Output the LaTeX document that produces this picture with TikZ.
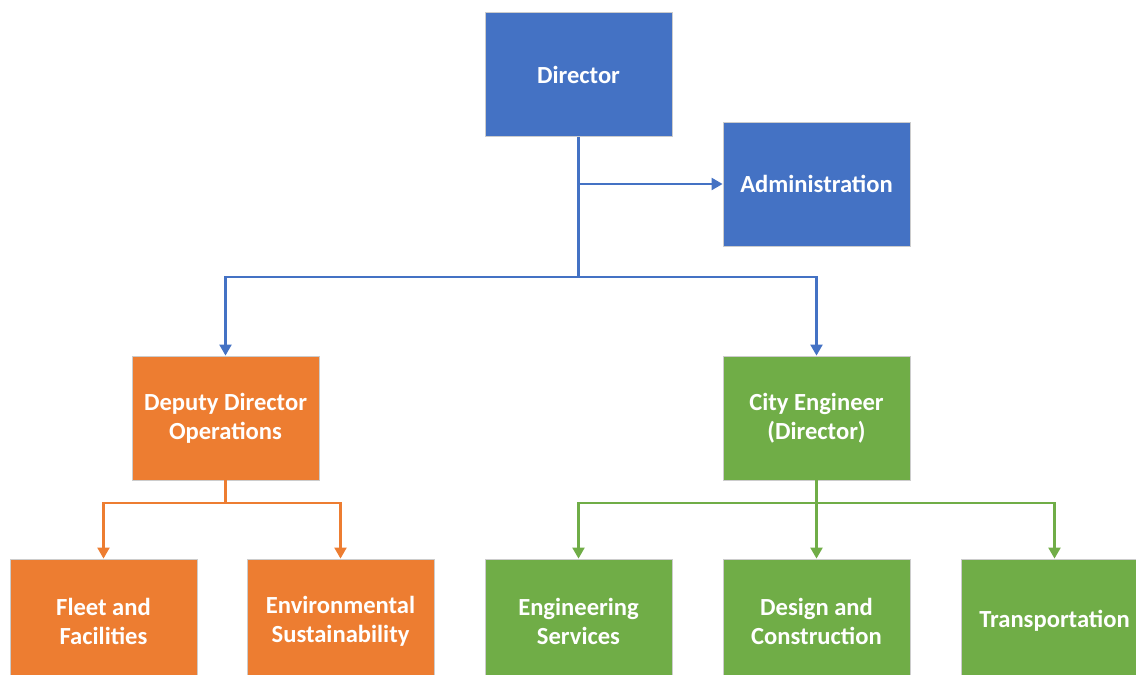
\documentclass[tikz,border=0pt]{standalone}
\usepackage{fontspec}
\setmainfont{Carlito}
\usepackage{xcolor}
\usetikzlibrary{arrows.meta}
\definecolor{OrgBlue}{HTML}{4472C4}
\definecolor{OrgOrange}{HTML}{ED7D31}
\definecolor{OrgGreen}{HTML}{70AD47}
\definecolor{OrgEdge}{HTML}{CCCCCC}

\begin{document}
\begin{tikzpicture}[x=0.02cm,y=-0.02cm,
  unit/.style={draw=OrgEdge,line width=.5pt,minimum width=3.74cm,minimum height=2.48cm,
    inner sep=0pt,align=center,text=white,font=\fontsize{14}{16.5}\selectfont\bfseries},
  wire/.style={line width=1.2pt},
  link/.style={wire,-{Triangle[length=6.2pt,width=6.8pt]}}]
\useasboundingbox (0,0) rectangle (1136,675);
\clip (0,0) rectangle (1136,675);
\node[unit,fill=OrgBlue] (director) at (578.5,74.5) {Director};
\node[unit,fill=OrgBlue] (admin) at (816.5,184) {Administration};
\node[unit,fill=OrgOrange] (deputy) at (225.5,418) {Deputy Director\\Operations};
\node[unit,fill=OrgGreen] (cityeng) at (816.5,418) {City Engineer\\(Director)};
\node[unit,fill=OrgOrange] (fleet) at (103.5,621) {Fleet and\\Facilities};
\node[unit,fill=OrgOrange] (enviro) at (340.5,621) {Environmental\\Sustainability};
\node[unit,fill=OrgGreen] (engsvc) at (578.5,621) {Engineering\\Services};
\node[unit,fill=OrgGreen] (design) at (816.5,621) {Design and\\Construction};
\node[unit,fill=OrgGreen] (transport) at (1054.5,621) {Transportation};
\coordinate (dirbus) at (578.5,277);
\coordinate (opsbus) at (225.5,503);
\coordinate (engbus) at (816.5,503);
% director branch
\draw[OrgBlue,wire] (director) -- (dirbus);
\draw[OrgBlue,link] (director.south |- admin.west) -- (admin.west);
\draw[OrgBlue,link] (dirbus) -| (deputy.north);
\draw[OrgBlue,link] (dirbus) -| (cityeng.north);
% operations branch
\draw[OrgOrange,wire] (deputy) -- (opsbus);
\draw[OrgOrange,link] (opsbus) -| (fleet.north);
\draw[OrgOrange,link] (opsbus) -| (enviro.north);
% engineering branch
\draw[OrgGreen,link] (cityeng) -- (design);
\draw[OrgGreen,link] (engbus) -| (engsvc.north);
\draw[OrgGreen,link] (engbus) -| (transport.north);
\end{tikzpicture}
\end{document}
